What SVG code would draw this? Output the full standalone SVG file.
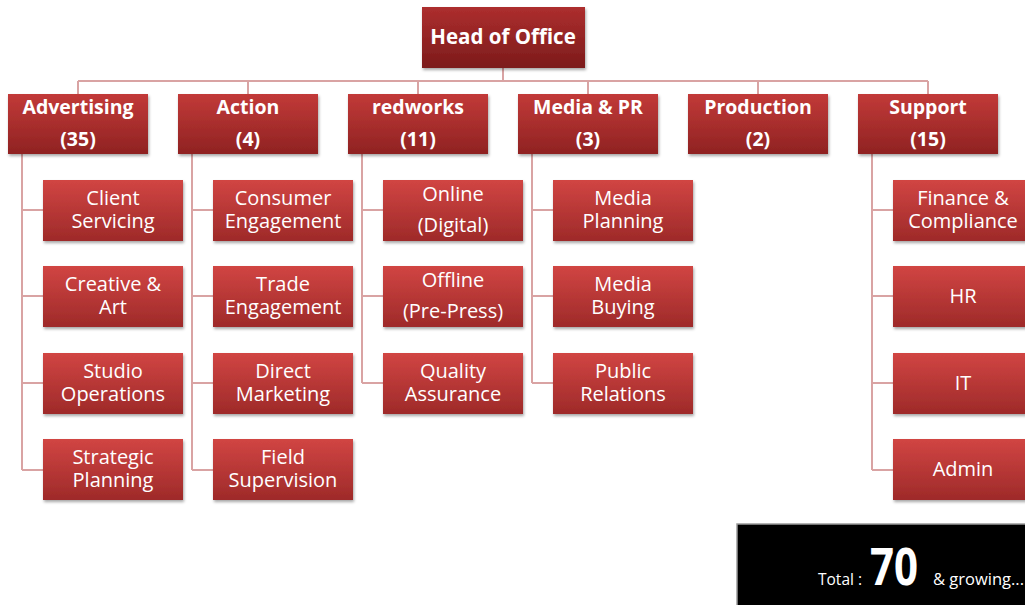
<svg xmlns="http://www.w3.org/2000/svg" width="1025" height="605" viewBox="0 0 1025 605">
<defs>
<linearGradient id="gTop" x1="0" y1="0" x2="0" y2="1">
<stop offset="0" stop-color="#c23a38"/>
<stop offset="1" stop-color="#8f2222"/>
</linearGradient>
<linearGradient id="gHead" x1="0" y1="0" x2="0" y2="1">
<stop offset="0" stop-color="#ad2e2e"/>
<stop offset="1" stop-color="#7c1b1b"/>
</linearGradient>
<linearGradient id="gChild" x1="0" y1="0" x2="0" y2="1">
<stop offset="0" stop-color="#d14543"/>
<stop offset="1" stop-color="#9e2a29"/>
</linearGradient>
<filter id="sh" x="-10%" y="-10%" width="120%" height="130%">
<feDropShadow dx="1" dy="2" stdDeviation="1.5" flood-color="#000" flood-opacity="0.35"/>
</filter>
</defs>
<style>
.conn{fill:none;stroke:#d9a3a3;stroke-width:2}
.head{fill:url(#gHead);filter:url(#sh)}
.top{fill:url(#gTop);filter:url(#sh)}
.child{fill:url(#gChild);filter:url(#sh)}
text{font-family:"Open Sans",Lato,"Liberation Sans",sans-serif;fill:#fff;text-anchor:middle}
.tb{font-weight:bold;font-size:19.5px}
.tc{font-size:20px}
</style>
<rect width="1025" height="605" fill="#fff"/>
<g id="connectors">
<path class="conn" d="M503,68 V81 M78,81 H928 M78,81 V94 M248,81 V94 M418,81 V94 M588,81 V94 M758,81 V94 M928,81 V94"/>
<path class="conn" d="M22,154 V470 M22,210 H43 M22,296 H43 M22,383 H43 M22,470 H43"/>
<path class="conn" d="M192,154 V470 M192,210 H213 M192,296 H213 M192,383 H213 M192,470 H213"/>
<path class="conn" d="M362,154 V383 M362,210 H383 M362,296 H383 M362,383 H383"/>
<path class="conn" d="M532,154 V383 M532,210 H553 M532,296 H553 M532,383 H553"/>
<path class="conn" d="M872,154 V470 M872,210 H893 M872,296 H893 M872,383 H893 M872,470 H893"/>
</g>
<g id="head"><rect class="head" x="422" y="7" width="163" height="61"/><text class="tb" x="503" y="44" style="font-size:20.5px">Head of Office</text></g>
<g id="advertising"><rect class="top" x="8" y="94" width="140" height="60"/><text class="tb" x="78" y="114">Advertising</text><text class="tb" x="78" y="146">(35)</text></g>
<g id="action"><rect class="top" x="178" y="94" width="140" height="60"/><text class="tb" x="248" y="114">Action</text><text class="tb" x="248" y="146">(4)</text></g>
<g id="redworks"><rect class="top" x="348" y="94" width="140" height="60"/><text class="tb" x="418" y="114">redworks</text><text class="tb" x="418" y="146">(11)</text></g>
<g id="mediapr"><rect class="top" x="518" y="94" width="140" height="60"/><text class="tb" x="588" y="114">Media &amp; PR</text><text class="tb" x="588" y="146">(3)</text></g>
<g id="production"><rect class="top" x="688" y="94" width="140" height="60"/><text class="tb" x="758" y="114">Production</text><text class="tb" x="758" y="146">(2)</text></g>
<g id="support"><rect class="top" x="858" y="94" width="140" height="60"/><text class="tb" x="928" y="114">Support</text><text class="tb" x="928" y="146">(15)</text></g>

<g id="client"><rect class="child" x="43" y="180" width="140" height="61"/><text class="tc" x="113" y="205">Client</text><text class="tc" x="113" y="228">Servicing</text></g>
<g id="creative"><rect class="child" x="43" y="266" width="140" height="61"/><text class="tc" x="113" y="291">Creative &amp;</text><text class="tc" x="113" y="314">Art</text></g>
<g id="studio"><rect class="child" x="43" y="353" width="140" height="61"/><text class="tc" x="113" y="378">Studio</text><text class="tc" x="113" y="401">Operations</text></g>
<g id="strategic"><rect class="child" x="43" y="439" width="140" height="61"/><text class="tc" x="113" y="464">Strategic</text><text class="tc" x="113" y="487">Planning</text></g>

<g id="consumer"><rect class="child" x="213" y="180" width="140" height="61"/><text class="tc" x="283" y="205">Consumer</text><text class="tc" x="283" y="228">Engagement</text></g>
<g id="trade"><rect class="child" x="213" y="266" width="140" height="61"/><text class="tc" x="283" y="291">Trade</text><text class="tc" x="283" y="314">Engagement</text></g>
<g id="direct"><rect class="child" x="213" y="353" width="140" height="61"/><text class="tc" x="283" y="378">Direct</text><text class="tc" x="283" y="401">Marketing</text></g>
<g id="field"><rect class="child" x="213" y="439" width="140" height="61"/><text class="tc" x="283" y="464">Field</text><text class="tc" x="283" y="487">Supervision</text></g>

<g id="online"><rect class="child" x="383" y="180" width="140" height="61"/><text class="tc" x="453" y="201">Online</text><text class="tc" x="453" y="232">(Digital)</text></g>
<g id="offline"><rect class="child" x="383" y="266" width="140" height="61"/><text class="tc" x="453" y="287">Offline</text><text class="tc" x="453" y="318">(Pre-Press)</text></g>
<g id="quality"><rect class="child" x="383" y="353" width="140" height="61"/><text class="tc" x="453" y="378">Quality</text><text class="tc" x="453" y="401">Assurance</text></g>

<g id="mplanning"><rect class="child" x="553" y="180" width="140" height="61"/><text class="tc" x="623" y="205">Media</text><text class="tc" x="623" y="228">Planning</text></g>
<g id="mbuying"><rect class="child" x="553" y="266" width="140" height="61"/><text class="tc" x="623" y="291">Media</text><text class="tc" x="623" y="314">Buying</text></g>
<g id="pr"><rect class="child" x="553" y="353" width="140" height="61"/><text class="tc" x="623" y="378">Public</text><text class="tc" x="623" y="401">Relations</text></g>

<g id="finance"><rect class="child" x="893" y="180" width="140" height="61"/><text class="tc" x="963" y="205">Finance &amp;</text><text class="tc" x="963" y="228">Compliance</text></g>
<g id="hr"><rect class="child" x="893" y="266" width="140" height="61"/><text class="tc" x="963" y="303">HR</text></g>
<g id="it"><rect class="child" x="893" y="353" width="140" height="61"/><text class="tc" x="963" y="390">IT</text></g>
<g id="admin"><rect class="child" x="893" y="439" width="140" height="61"/><text class="tc" x="963" y="476">Admin</text></g>

<g id="total">
<rect x="737" y="524" width="300" height="90" fill="#000" stroke="#9a9a9a" stroke-width="1.5"/>
<text x="818" y="585" font-size="17" style="text-anchor:start" textLength="44" lengthAdjust="spacingAndGlyphs">Total :</text>
<text x="870" y="585" font-size="52" font-weight="bold" style="text-anchor:start" textLength="48" lengthAdjust="spacingAndGlyphs">70</text>
<text x="933" y="585" font-size="17" style="text-anchor:start" textLength="91" lengthAdjust="spacingAndGlyphs">&amp; growing...</text>
</g>
</svg>
